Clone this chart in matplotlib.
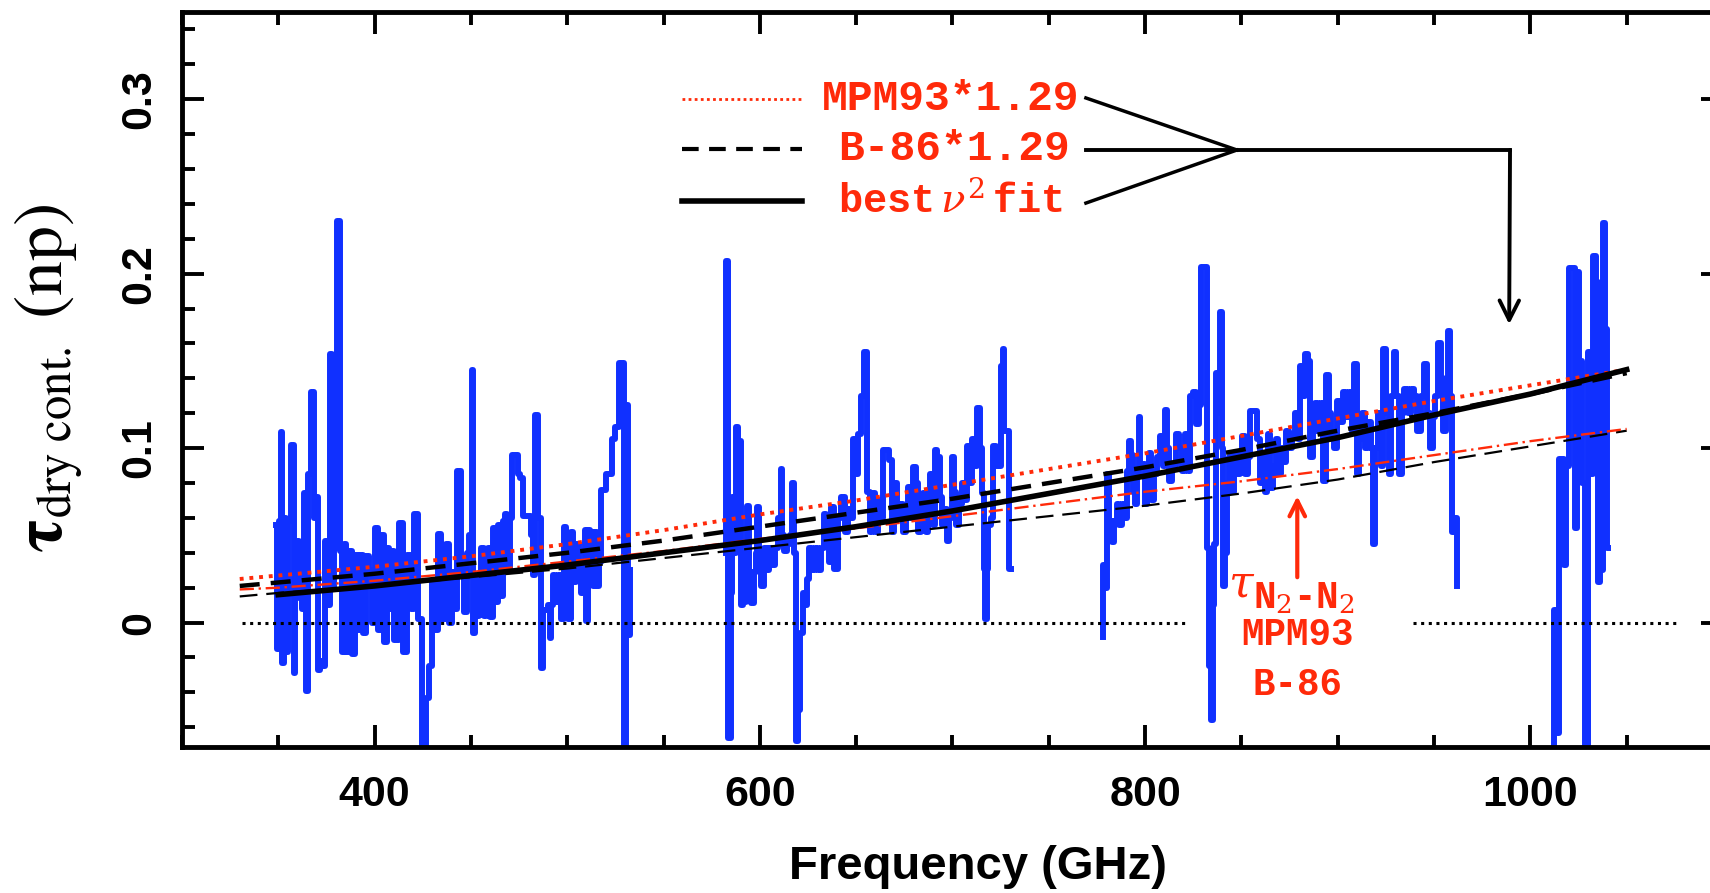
import numpy as np
import matplotlib
matplotlib.use('Agg')
import matplotlib.pyplot as plt

nan = np.nan

# measured dry continuum opacity (blue trace); nan marks the gaps in coverage
freq = [348.8, 349.8, 350.8, 351.6, 352.5, 353.5, 354.5, 355.8, 357.5, 358.4,
        359.3, 360.1, 361.0, 361.8, 362.8, 363.9, 364.8, 366.1, 367.9, 368.8,
        370.1, 371.1, 372.2, 373.4, 374.8, 376.0, 377.4, 378.3, 379.2, 381.4,
        382.4, 383.4, 384.4, 386.0, 387.8, 389.0, 390.5, 391.8, 393.1, 394.5,
        396.2, 398.0, 399.5, 400.9, 402.5, 404.3, 405.5, 406.9, 408.2, 409.5,
        411.0, 413.9, 415.2, 418.2, 419.5, 421.7, 423.5, 425.7, 427.4, 429.2,
        430.4, 432.0, 433.9, 435.5, 438.2, 439.5, 440.8, 442.0, 443.8, 445.5,
        447.0, 448.5, 450.0, 450.7, 451.5, 452.5, 453.5, 455.0, 456.0, 457.2,
        458.5, 459.5, 460.5, 462.0, 463.0, 464.7, 466.0, 467.2, 468.0, 469.5,
        470.7, 471.6, 473.5, 475.0, 476.5, 478.0, 480.0, 481.9, 482.8, 484.0,
        485.3, 487.0, 488.0, 489.7, 490.5, 491.3, 492.2, 493.0, 494.5, 496.0,
        497.4, 499.1, 500.0, 500.9, 502.6, 503.5, 505.2, 506.9, 507.8, 508.6,
        509.5, 510.3, 511.2, 512.9, 513.8, 514.7, 516.0, 517.2, 518.1, 520.0,
        520.7, 522.5, 524.1, 525.9, 527.6, 529.0, 529.8, 531.0, 531.9, 533.0,
        nan,
        582.0, 583.0, 584.3, 585.3, 586.2, 587.0, 588.2, 589.0, 589.8, 590.6,
        591.4, 592.2, 593.0, 594.0, 595.0, 596.2, 597.4, 598.3, 599.1, 600.0,
        601.5, 603.0, 604.3, 605.5, 607.0, 608.6, 610.3, 611.2, 612.0, 613.5,
        614.7, 616.4, 617.3, 618.5, 619.2, 620.0, 621.6, 622.8, 624.1, 625.0,
        626.3, 627.6, 629.3, 631.0, 632.8, 633.6, 635.3, 636.5, 637.9, 639.5,
        641.4, 643.1, 645.0, 646.6, 648.0, 649.1, 650.5, 651.7, 653.4, 655.2,
        656.4, 657.5, 659.0, 660.5, 662.0, 663.5, 664.8, 666.5, 667.8, 669.0,
        670.5, 672.2, 673.5, 675.0, 676.5, 677.8, 679.1, 680.3, 681.7, 683.0,
        684.3, 685.5, 686.8, 688.0, 689.0, 690.3, 691.5, 692.9, 694.0, 695.2,
        696.4, 697.8, 699.0, 700.2, 701.6, 702.5, 704.2, 705.5, 706.8, 708.0,
        709.4, 710.8, 712.0, 713.5, 714.6, 715.8, 716.5, 717.3, 718.2, 719.0,
        720.5, 721.5, 723.2, 724.5, 725.5, 726.5, 727.5, 729.0, 730.0, 731.0,
        nan,
        777.5, 778.5, 779.5, 780.5, 781.5, 782.5, 783.5, 784.7, 786.0, 787.3,
        788.5, 789.9, 791.0, 792.0, 793.0, 794.2, 795.5, 796.5, 797.2, 798.0,
        799.5, 800.5, 801.5, 802.5, 804.0, 805.5, 807.0, 808.5, 809.8, 810.8,
        811.8, 813.0, 815.0, 816.7, 818.5, 820.2, 821.5, 823.0, 824.0, 825.5,
        827.0, 828.5, 829.5, 831.5, 832.5, 833.5, 834.5, 835.5, 836.5, 837.5,
        838.5, 839.5, 840.3, 841.0, 842.0, 843.0, 844.5, 845.5, 847.0, 848.5,
        849.6, 851.0, 852.5, 854.0, 855.0, 857.0, 859.0, 860.5, 861.5, 862.6,
        863.5, 864.5, 865.5, 867.0, 868.5, 870.0, 871.5, 872.5, 874.0, 875.5,
        877.0, 878.5, 880.0, 881.2, 882.6, 883.8, 885.2, 886.5, 887.8, 889.0,
        890.5, 892.0, 893.2, 894.5, 896.0, 897.5, 899.0, 900.5, 902.0, 903.5,
        905.0, 906.8, 908.0, 909.2, 910.5, 912.0, 913.7, 915.0, 916.3, 918.0,
        919.0, 920.0, 921.5, 923.0, 924.5, 925.8, 927.0, 928.4, 929.8, 931.0,
        932.5, 933.8, 935.5, 937.0, 938.8, 940.5, 942.0, 944.0, 945.5, 947.0,
        948.5, 950.0, 951.5, 952.8, 954.0, 955.5, 957.0, 958.0, 959.0, 960.0,
        961.5, 962.5,
        nan,
        1012.0, 1013.0, 1014.0, 1015.5, 1017.0, 1018.0, 1019.5, 1021.0, 1022.5, 1023.5,
        1024.5, 1026.0, 1027.5, 1029.0, 1030.5, 1032.0, 1033.5, 1034.5, 1035.5, 1037.0,
        1038.5, 1039.5, 1040.5]

tau = [0.056, -0.015, 0.058, 0.109, -0.023, 0.060, -0.017, 0.058, 0.102, -0.029,
       0.030, 0.047, 0.014, 0.039, 0.008, 0.074, -0.039, 0.085, 0.132, 0.060,
       0.072, -0.027, -0.022, -0.025, 0.047, 0.010, 0.154, 0.020, 0.043, 0.230,
       0.041, -0.017, 0.045, -0.017, 0.041, -0.018, 0.039, -0.004, 0.039, -0.006,
       0.038, 0.030, 0.000, 0.054, -0.004, 0.050, -0.011, 0.043, 0.008, 0.041,
       -0.010, 0.057, -0.017, 0.039, 0.008, 0.062, 0.002, -0.090, -0.043, -0.025,
       0.023, -0.004, 0.051, 0.002, 0.045, 0.000, 0.029, 0.008, 0.087, 0.030,
       0.006, 0.040, 0.050, 0.145, -0.006, 0.025, 0.004, 0.025, 0.043, 0.004,
       0.040, 0.043, 0.003, 0.054, 0.012, 0.056, 0.015, 0.058, 0.062, 0.031,
       0.060, 0.096, 0.096, 0.085, 0.083, 0.061, 0.061, 0.050, 0.027, 0.119,
       0.060, -0.026, 0.007, 0.007, 0.010, -0.009, 0.010, 0.027, 0.012, 0.027,
       0.002, 0.055, 0.030, 0.002, 0.052, 0.023, 0.045, 0.033, 0.017, 0.033,
       0.053, 0.001, 0.053, 0.052, 0.021, 0.052, 0.021, 0.035, 0.076, 0.076,
       0.085, 0.085, 0.105, 0.112, 0.149, 0.149, -0.090, 0.125, -0.007, 0.030,
       nan,
       0.040, 0.207, -0.066, 0.017, 0.072, 0.040, 0.112, 0.050, 0.104, 0.010,
       0.040, 0.012, 0.035, 0.067, 0.029, 0.011, 0.029, 0.040, 0.066, 0.030,
       0.021, 0.043, 0.030, 0.043, 0.033, 0.043, 0.060, 0.088, 0.050, 0.041,
       0.045, 0.050, 0.080, 0.040, -0.068, -0.050, -0.006, 0.017, 0.010, 0.025,
       0.043, 0.030, 0.043, 0.030, 0.043, 0.062, 0.045, 0.035, 0.066, 0.031,
       0.060, 0.072, 0.052, 0.065, 0.060, 0.105, 0.085, 0.108, 0.130, 0.155,
       0.075, 0.052, 0.074, 0.052, 0.070, 0.060, 0.099, 0.099, 0.093, 0.052,
       0.080, 0.060, 0.068, 0.052, 0.065, 0.078, 0.060, 0.089, 0.080, 0.052,
       0.070, 0.074, 0.052, 0.064, 0.085, 0.056, 0.099, 0.095, 0.072, 0.056,
       0.065, 0.047, 0.060, 0.095, 0.075, 0.056, 0.068, 0.080, 0.070, 0.101,
       0.080, 0.105, 0.090, 0.123, 0.100, 0.074, 0.031, 0.002, 0.031, 0.056,
       0.060, 0.101, 0.090, 0.090, 0.147, 0.157, 0.110, 0.110, 0.031, 0.031,
       nan,
       -0.008, 0.033, 0.020, 0.085, 0.050, 0.058, 0.046, 0.058, 0.068, 0.056,
       0.068, 0.060, 0.087, 0.104, 0.096, 0.075, 0.068, 0.085, 0.118, 0.090,
       0.091, 0.068, 0.075, 0.097, 0.070, 0.085, 0.095, 0.107, 0.090, 0.122,
       0.100, 0.081, 0.090, 0.108, 0.100, 0.087, 0.108, 0.087, 0.130, 0.132,
       0.114, 0.125, 0.204, 0.204, 0.043, -0.025, -0.056, 0.010, 0.045, 0.143,
       0.120, 0.178, 0.100, 0.021, 0.040, 0.080, 0.095, 0.075, 0.097, 0.085,
       0.095, 0.107, 0.085, 0.095, 0.121, 0.121, 0.105, 0.080, 0.095, 0.075,
       0.095, 0.108, 0.077, 0.090, 0.105, 0.085, 0.100, 0.092, 0.110, 0.100,
       0.108, 0.120, 0.105, 0.147, 0.130, 0.154, 0.150, 0.095, 0.110, 0.126,
       0.110, 0.126, 0.081, 0.142, 0.120, 0.105, 0.100, 0.127, 0.115, 0.132,
       0.118, 0.132, 0.110, 0.148, 0.085, 0.105, 0.120, 0.100, 0.115, 0.100,
       0.045, 0.100, 0.120, 0.090, 0.157, 0.120, 0.085, 0.130, 0.155, 0.130,
       0.085, 0.120, 0.134, 0.120, 0.134, 0.130, 0.110, 0.130, 0.148, 0.120,
       0.100, 0.118, 0.130, 0.160, 0.140, 0.110, 0.120, 0.167, 0.130, 0.052,
       0.060, 0.021,
       nan,
       -0.090, 0.007, -0.063, 0.094, 0.094, 0.033, 0.090, 0.203, 0.203, 0.054,
       0.201, 0.150, 0.080, -0.090, 0.155, 0.085, 0.210, 0.195, 0.023, 0.030,
       0.229, 0.168, 0.043]

# model curves
fit_freq = [330, 350, 400, 450, 500, 550, 600, 650, 700, 750, 800, 850, 900, 950, 1000, 1050]
mpm93_scaled = [0.025, 0.027, 0.032, 0.038, 0.045, 0.053, 0.062, 0.070, 0.079, 0.088,
                0.097, 0.107, 0.117, 0.127, 0.136, 0.145]
b86_scaled = [0.021, 0.023, 0.028, 0.034, 0.040, 0.047, 0.055, 0.063, 0.071, 0.080,
              0.089, 0.099, 0.110, 0.120, 0.131, 0.143]
best_fit = [nan, 0.016, 0.021, 0.027, 0.033, 0.040, 0.047, 0.055, 0.064, 0.074,
            0.084, 0.095, 0.106, 0.119, 0.131, 0.145]
mpm93 = [0.019, 0.020, 0.024, 0.029, 0.035, 0.041, 0.048, 0.054, 0.061, 0.068,
         0.075, 0.081, 0.088, 0.096, 0.104, 0.111]
b86 = [0.015, 0.017, 0.021, 0.026, 0.031, 0.037, 0.043, 0.049, 0.055, 0.061,
       0.067, 0.074, 0.082, 0.092, 0.101, 0.110]

zero_freq = [331, 823, nan, 939, 1077]
zero_tau = [0, 0, nan, 0, 0]

x_ticks = [400, 600, 800, 1000]
x_labels = ['400', '600', '800', '1000']
y_ticks = [0, 0.1, 0.2, 0.3]
y_labels = ['0', '0.1', '0.2', '0.3']

RED = '#ff2a0a'
BLUE = '#1030ff'

fig = plt.figure(figsize=(17.1, 8.93), dpi=100)
ax = fig.add_axes([0.1064, 0.1635, 0.9012, 0.8231])

ax.plot(freq, tau, color=BLUE, lw=4.3, drawstyle='steps-mid', zorder=1)
ax.plot(zero_freq, zero_tau, color='k', lw=2.2, dashes=(1, 1.5), zorder=2)
ax.plot(fit_freq, b86, color='k', lw=1.6, dashes=(8, 4), zorder=3)
ax.plot(fit_freq, mpm93, color=RED, lw=1.7, dashes=(6, 2, 1, 2), zorder=3)
ax.plot(fit_freq, b86_scaled, color='k', lw=3.2, dashes=(4.5, 2.5), zorder=4)
ax.plot(fit_freq, mpm93_scaled, color=RED, lw=2.8, dashes=(1, 1.5), zorder=4)
ax.plot(fit_freq, best_fit, color='k', lw=4, zorder=5)

ax.set_xlim(300, 1100)
ax.set_ylim(-0.0713, 0.35)

ax.set_xticks(x_ticks)
ax.set_xticks(np.arange(300, 1101, 50), minor=True)
ax.set_yticks(y_ticks)
ax.set_yticks(np.arange(-0.06, 0.35, 0.02), minor=True)
ax.set_xticklabels(x_labels, fontsize=31, fontweight='bold', family='Liberation Sans')
ax.set_yticklabels(y_labels, fontsize=31, fontweight='bold', family='Liberation Sans',
                   rotation=90, va='center')
ax.tick_params(which='both', direction='in', top=True, right=True, width=2.8)
ax.tick_params(which='major', length=16)
ax.tick_params(which='minor', length=9)
ax.tick_params(axis='x', pad=20)
ax.tick_params(axis='y', pad=16)
for s in ax.spines.values():
    s.set_linewidth(3.5)

# key with line samples
T = ax.transAxes
ax.plot([0.3245, 0.4024], [0.8816, 0.8816], transform=T, color=RED, lw=2, dashes=(1, 1.2))
ax.plot([0.3245, 0.4024], [0.813, 0.813], transform=T, color='k', lw=3, dashes=(4, 2.5))
ax.plot([0.3245, 0.4024], [0.7433, 0.7433], transform=T, color='k', lw=4)
key_font = dict(transform=T, color=RED, family='Liberation Mono',
                weight='bold', ha='center', va='center')
ax.text(0.499, 0.8816, 'MPM93*1.29', fontsize=31, **key_font)
ax.text(0.501, 0.813, 'B-86*1.29', fontsize=31, **key_font)
ax.text(0.499, 0.7433, r'best$\,\nu^2\,$fit', fontsize=29,
        math_fontfamily='dejavuserif', **key_font)

ax.plot([0.5866, 0.6846], [0.883, 0.8122], transform=T, color='k', lw=2.5)
ax.plot([0.5866, 0.6846], [0.740, 0.8122], transform=T, color='k', lw=2.5)
ax.plot([0.5866, 0.8618], [0.8122, 0.8122], transform=T, color='k', lw=2.8)
ax.annotate('', xy=(989, 0.171), xycoords='data', xytext=(0.8618, 0.8122), textcoords=T,
            arrowprops=dict(arrowstyle='->', color='k', lw=2.8, mutation_scale=35,
                            shrinkA=0, shrinkB=0))

# nitrogen collision-induced annotation
ax.annotate('', xy=(879, 0.0725), xytext=(879, 0.026),
            arrowprops=dict(arrowstyle='->', color=RED, lw=3, mutation_scale=28,
                            shrinkA=0, shrinkB=0))
ax.text(857, 0.0215, r'$\tau$', color=RED, fontsize=32, math_fontfamily='dejavuserif',
        ha='right', va='center')
ax.text(856, 0.0140, r'N$_2$-N$_2$', color=RED, fontsize=27, family='Liberation Mono',
        weight='bold', math_fontfamily='dejavuserif', ha='left', va='center')
ax.text(879, -0.0072, 'MPM93', color=RED, fontsize=27, family='Liberation Mono',
        weight='bold', ha='center', va='center')
ax.text(879, -0.0358, 'B-86', color=RED, fontsize=27, family='Liberation Mono',
        weight='bold', ha='center', va='center')

fig.text(0.572, 0.029, 'Frequency (GHz)', fontsize=34, fontweight='bold',
         family='Liberation Sans', ha='center', va='center')
fig.text(0.0287, 0.576, r'$\mathbf{\tau}_{\mathrm{dry\ cont.}}\ \mathrm{(np)}$',
         rotation=90, fontsize=50, math_fontfamily='stix', ha='center', va='center')

fig.savefig('out.png', dpi=100)
